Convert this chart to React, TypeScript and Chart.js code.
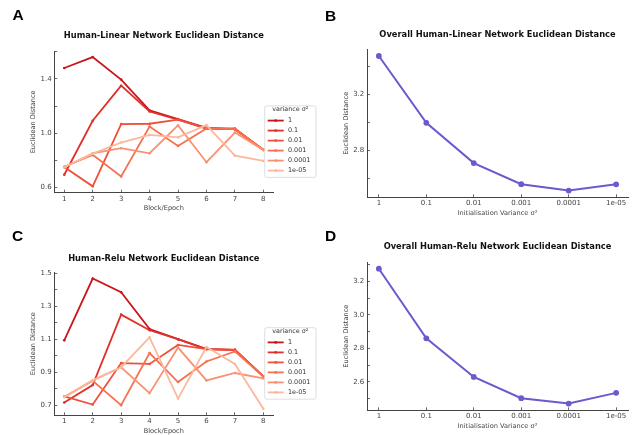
import React, { useEffect, useRef } from 'react';
import { Chart, registerables } from 'chart.js';

Chart.register(...registerables);

// ---------------- data ----------------
const epochs = [1, 2, 3, 4, 5, 6, 7, 8];
const varianceLabels = ['1', '0.1', '0.01', '0.001', '0.0001', '1e-05'];
const seriesColors = ['#c9151e', '#e0302a', '#f0503a', '#f7704f', '#fa9170', '#fcb89c'];
const legendTitle = 'variance σ²';

// Human-Linear network distance per block/epoch, one array per variance
const linear_1 = [1.48, 1.56, 1.395, 1.168, 1.105, 1.04, 1.03, 0.878];
const linear_0_1 = [0.695, 1.092, 1.35, 1.16, 1.1, 1.035, 1.03, 0.878];
const linear_0_01 = [0.752, 0.61, 1.068, 1.07, 1.1, 1.036, 1.035, 0.878];
const linear_0_001 = [0.754, 0.841, 0.683, 1.049, 0.907, 1.036, 1.03, 0.88];
const linear_0_0001 = [0.75, 0.853, 0.89, 0.853, 1.058, 0.787, 1.005, 0.878];
const linear_1e_05 = [0.75, 0.85, 0.932, 0.988, 0.97, 1.06, 0.836, 0.797];

// Human-Relu network distance per block/epoch
const relu_1 = [1.093, 1.468, 1.385, 1.162, 1.1, 1.04, 1.035, 0.874];
const relu_0_1 = [0.716, 0.822, 1.249, 1.154, 1.1, 1.04, 1.035, 0.874];
const relu_0_01 = [0.753, 0.704, 0.955, 0.95, 1.065, 1.04, 1.035, 0.874];
const relu_0_001 = [0.75, 0.848, 0.7, 1.016, 0.84, 0.965, 1.026, 0.874];
const relu_0_0001 = [0.75, 0.85, 0.93, 0.773, 1.049, 0.85, 0.895, 0.862];
const relu_1e_05 = [0.75, 0.85, 0.93, 1.111, 0.74, 1.053, 0.95, 0.678];

// Overall distance per initialisation variance
const overallLinear = [3.475, 2.996, 2.707, 2.556, 2.51, 2.555];
const overallRelu = [3.275, 2.86, 2.63, 2.503, 2.471, 2.535];

// labelled y ticks
const yTicksA = [0.6, 1.0, 1.4];
const yTicksB = [2.8, 3.2];
const yTicksC = [0.7, 0.9, 1.1, 1.3, 1.5];
const yTicksD = [2.6, 2.8, 3.0, 3.2];

const overallColor = '#6a5acd';

// ---------------- layout ----------------
const W = 642;
const H = 435;
const FONT = '"DejaVu Sans", sans-serif';
const AXIS_COLOR = '#444';

const varLegendPlugin = {
  id: 'varLegend',
  afterDraw(chart: any, _args: any, opts: any) {
    const { ctx, chartArea } = chart;
    const w = 51.3;
    const h = 71.5;
    const left = chartArea.right - 8.6;
    const cy = (chartArea.top + chartArea.bottom) / 2 + 19.8;
    const top = cy - h / 2;
    ctx.save();
    ctx.beginPath();
    if (ctx.roundRect) ctx.roundRect(left, top, w, h, 2);
    else ctx.rect(left, top, w, h);
    ctx.fillStyle = 'rgba(255,255,255,0.85)';
    ctx.fill();
    ctx.strokeStyle = '#d6d6d6';
    ctx.lineWidth = 0.8;
    ctx.stroke();
    ctx.font = `6.4px ${FONT}`;
    ctx.textBaseline = 'middle';
    ctx.fillStyle = '#333';
    ctx.textAlign = 'center';
    ctx.fillText(opts.title, left + w / 2, top + 3.9);
    ctx.textAlign = 'left';
    chart.data.datasets.forEach((ds: any, i: number) => {
      const y = top + 14.7 + i * 10;
      ctx.strokeStyle = ds.borderColor;
      ctx.lineWidth = ds.borderWidth;
      ctx.beginPath();
      ctx.moveTo(left + 3, y);
      ctx.lineTo(left + 19, y);
      ctx.stroke();
      ctx.fillStyle = ds.borderColor;
      ctx.beginPath();
      ctx.arc(left + 11, y, 1.4, 0, Math.PI * 2);
      ctx.fill();
      ctx.fillStyle = '#333';
      ctx.fillText(ds.label, left + 23.3, y);
    });
    ctx.restore();
  },
};

type Panel = {
  title: string;
  xTitle: string;
  L: number;
  R: number;
  T: number;
  B: number;
  titleY: number;
  xMin: number;
  xMax: number;
  yMin: number;
  yMax: number;
  yStep: number;
  yLabeled: number[];
  xLabels?: string[];
  datasets: any[];
  legend: boolean;
};

function buildConfig(p: Panel): any {
  const yW = 40;
  const xH = 24;
  const titleSize = 8.3;
  const titleLH = titleSize * 1.2;
  const tickFont = { family: FONT, size: 7, lineHeight: 1.2 };
  const axisTitleFont = { family: FONT, size: 6.6, lineHeight: 1.2 };
  const grid = {
    display: true,
    drawOnChartArea: false,
    drawTicks: true,
    tickLength: -3,
    color: AXIS_COLOR,
    tickColor: AXIS_COLOR,
    tickWidth: 0.8,
  };
  const border = { display: true, color: AXIS_COLOR, width: 1 };
  return {
    type: 'line',
    data: { datasets: p.datasets },
    options: {
      responsive: false,
      animation: false,
      events: [],
      layout: {
        padding: { left: p.L - yW, right: W - p.R - yW, top: 0, bottom: H - p.B - xH },
      },
      plugins: {
        legend: { display: false },
        tooltip: { enabled: false },
        title: {
          display: true,
          text: p.title,
          color: '#111',
          font: { family: FONT, size: titleSize, weight: 'bold', lineHeight: 1.2 },
          padding: { top: p.titleY - titleLH / 2, bottom: p.T - p.titleY - titleLH / 2 },
        },
        varLegend: { title: legendTitle },
      },
      scales: {
        x: {
          type: 'linear',
          position: 'bottom',
          min: p.xMin,
          max: p.xMax,
          afterFit: (s: any) => {
            s.height = xH;
          },
          grid,
          border,
          ticks: {
            stepSize: 1,
            autoSkip: false,
            maxRotation: 0,
            includeBounds: false,
            padding: 4.8,
            color: AXIS_COLOR,
            font: tickFont,
            callback: (v: number) => (p.xLabels ? p.xLabels[Math.round(v)] ?? '' : String(v)),
          },
          title: {
            display: true,
            text: p.xTitle,
            color: AXIS_COLOR,
            font: axisTitleFont,
            padding: { top: 0, bottom: 4.5 },
          },
        },
        y: {
          type: 'linear',
          position: 'left',
          min: p.yMin,
          max: p.yMax,
          afterFit: (s: any) => {
            s.width = yW;
          },
          grid,
          border,
          ticks: {
            stepSize: p.yStep,
            autoSkip: false,
            includeBounds: false,
            maxTicksLimit: 30,
            padding: 5.7,
            color: AXIS_COLOR,
            font: tickFont,
            callback: (v: number) =>
              p.yLabeled.some((t) => Math.abs(t - v) < 1e-6) ? v.toFixed(1) : '',
          },
          title: {
            display: true,
            text: 'Euclidean Distance',
            color: AXIS_COLOR,
            font: axisTitleFont,
            padding: { top: 15.5, bottom: 0 },
          },
        },
        yDummy: {
          type: 'linear',
          position: 'right',
          display: true,
          afterFit: (s: any) => {
            s.width = yW;
          },
          grid: { display: false, drawTicks: false },
          border: { display: false },
          ticks: { display: false },
          title: { display: false },
        },
      },
    },
    plugins: p.legend ? [varLegendPlugin] : [],
  };
}

function epochDatasets(series: number[][]) {
  return series.map((vals, i) => ({
    label: varianceLabels[i],
    data: vals.map((y, k) => ({ x: epochs[k], y })),
    borderColor: seriesColors[i],
    backgroundColor: seriesColors[i],
    pointBackgroundColor: seriesColors[i],
    borderWidth: 1.8,
    pointRadius: 1.3,
    pointBorderWidth: 0,
    tension: 0,
    order: series.length - i,
    yAxisID: 'y',
  }));
}

function overallDataset(vals: number[]) {
  return [
    {
      label: 'overall',
      data: vals.map((y, i) => ({ x: i, y })),
      borderColor: overallColor,
      backgroundColor: overallColor,
      pointBackgroundColor: overallColor,
      borderWidth: 2,
      pointRadius: 2.9,
      pointBorderWidth: 0,
      tension: 0,
      yAxisID: 'y',
    },
  ];
}

const panels: Panel[] = [
  {
    title: 'Human-Linear Network Euclidean Distance',
    xTitle: 'Block/Epoch',
    L: 54.3, R: 273.3, T: 51, B: 192.7, titleY: 36.2,
    xMin: 0.65, xMax: 8.35,
    yMin: 0.563, yMax: 1.605, yStep: 0.2, yLabeled: yTicksA,
    datasets: epochDatasets([linear_1, linear_0_1, linear_0_01, linear_0_001, linear_0_0001, linear_1e_05]),
    legend: true,
  },
  {
    title: 'Overall Human-Linear Network Euclidean Distance',
    xTitle: 'Initialisation Variance σ²',
    L: 367, R: 628, T: 49.3, B: 197.3, titleY: 35.3,
    xMin: -0.25, xMax: 5.25,
    yMin: 2.462, yMax: 3.523, yStep: 0.2, yLabeled: yTicksB,
    xLabels: varianceLabels,
    datasets: overallDataset(overallLinear),
    legend: false,
  },
  {
    title: 'Human-Relu Network Euclidean Distance',
    xTitle: 'Block/Epoch',
    L: 54.3, R: 273.3, T: 272, B: 415.3, titleY: 259,
    xMin: 0.65, xMax: 8.35,
    yMin: 0.6385, yMax: 1.5075, yStep: 0.1, yLabeled: yTicksC,
    datasets: epochDatasets([relu_1, relu_0_1, relu_0_01, relu_0_001, relu_0_0001, relu_1e_05]),
    legend: true,
  },
  {
    title: 'Overall Human-Relu Network Euclidean Distance',
    xTitle: 'Initialisation Variance σ²',
    L: 367, R: 628, T: 262, B: 410.3, titleY: 247.3,
    xMin: -0.25, xMax: 5.25,
    yMin: 2.431, yMax: 3.315, yStep: 0.1, yLabeled: yTicksD,
    xLabels: varianceLabels,
    datasets: overallDataset(overallRelu),
    legend: false,
  },
];

const panelLetters = [
  { text: 'A', left: 12.5, top: 7.3 },
  { text: 'B', left: 325, top: 8 },
  { text: 'C', left: 12, top: 228 },
  { text: 'D', left: 325, top: 228 },
];

export default function App() {
  const refs = useRef<(HTMLCanvasElement | null)[]>([]);

  useEffect(() => {
    const charts = panels.map((p, i) => new Chart(refs.current[i] as HTMLCanvasElement, buildConfig(p)));
    return () => charts.forEach((c) => c.destroy());
  }, []);

  return (
    <div
      style={{
        position: 'fixed',
        left: 0,
        top: 0,
        width: W,
        height: H,
        background: '#fff',
        overflow: 'hidden',
      }}
    >
      {panels.map((_, i) => (
        <canvas
          key={i}
          ref={(el) => {
            refs.current[i] = el;
          }}
          width={W}
          height={H}
          style={{ position: 'absolute', left: 0, top: 0, width: W, height: H }}
        />
      ))}
      {panelLetters.map((l) => (
        <div
          key={l.text}
          style={{
            position: 'absolute',
            left: l.left,
            top: l.top,
            font: '700 15.5px "Liberation Sans", Arial, sans-serif',
            lineHeight: '15px',
            color: '#000',
          }}
        >
          {l.text}
        </div>
      ))}
    </div>
  );
}
